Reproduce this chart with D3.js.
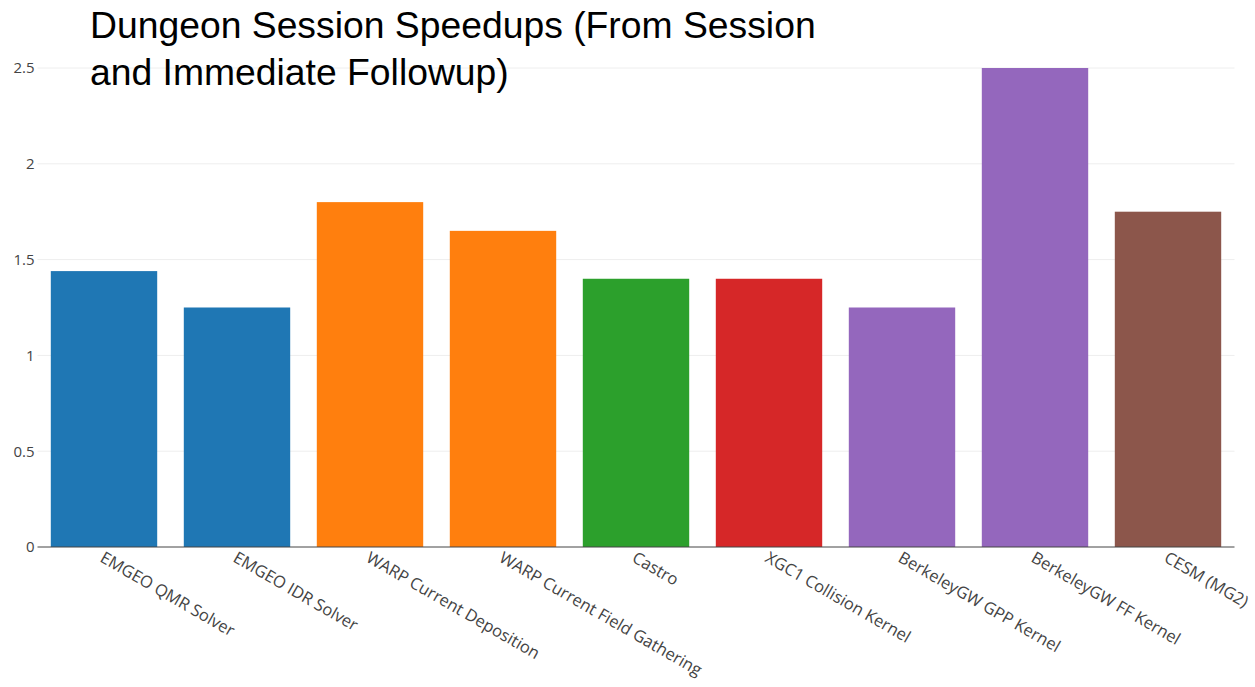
<!DOCTYPE html>
<html>
<head>
<meta charset="utf-8">
<script src="https://cdn.jsdelivr.net/npm/d3@7"></script>
<style>
  body { margin: 0; background: #fff; }
  svg { display: block; }
</style>
</head>
<body>
<div id="chart"></div>
<script>
// chart data
var kernels = ["EMGEO QMR Solver", "EMGEO IDR Solver", "WARP Current Deposition",
    "WARP Current Field Gathering", "Castro", "XGC1 Collision Kernel",
    "BerkeleyGW GPP Kernel", "BerkeleyGW FF Kernel", "CESM (MG2)"];
var speedups = [1.44, 1.25, 1.8, 1.65, 1.4, 1.4, 1.25, 2.5, 1.75];
var barColors = ["#1f77b4", "#1f77b4", "#ff7f0e", "#ff7f0e", "#2ca02c", "#d62728",
    "#9467bd", "#9467bd", "#8c564b"];
var yTicks = [0, 0.5, 1, 1.5, 2, 2.5];
var titleLines = ["Dungeon Session Speedups (From Session", "and Immediate Followup)"];

const W = 1255, H = 687;
const margin = { top: 68, right: 20.5, bottom: 140, left: 37.5 };
const width = W - margin.left - margin.right;
const height = H - margin.top - margin.bottom;

var svg = d3.select("#chart")
    .append("svg")
    .attr("width", W)
    .attr("height", H);

var g = svg.append("g")
    .attr("transform", `translate(${margin.left},${margin.top})`);

var x = d3.scaleBand()
    .domain(kernels)
    .range([0, width])
    .paddingInner(0.2)
    .paddingOuter(0.1);

var y = d3.scaleLinear()
    .domain([0, 2.5])
    .range([height, 0]);

// gridlines
g.append("g")
    .selectAll("line")
    .data(yTicks.filter(d => d > 0))
    .join("line")
    .attr("x1", 0)
    .attr("x2", width)
    .attr("y1", d => y(d))
    .attr("y2", d => y(d))
    .style("stroke", "#eee")
    .style("stroke-width", 1);

// y axis labels
var yAxis = g.append("g")
    .call(d3.axisLeft(y).tickValues(yTicks).tickSize(0).tickPadding(3).tickFormat(d3.format("")));
yAxis.select(".domain").remove();
yAxis.selectAll("text")
    .style("font-family", "'Open Sans', sans-serif")
    .style("font-size", "15px")
    .style("fill", "#444");

// bars
g.selectAll("rect.bar")
    .data(kernels)
    .join("rect")
    .attr("class", "bar")
    .attr("x", d => x(d))
    .attr("y", (d, i) => y(speedups[i]))
    .attr("width", x.bandwidth())
    .attr("height", (d, i) => height - y(speedups[i]))
    .style("fill", (d, i) => barColors[i]);

// zero line
g.append("line")
    .attr("x1", 0)
    .attr("x2", width)
    .attr("y1", y(0))
    .attr("y2", y(0))
    .style("stroke", "#444")
    .style("stroke-width", 1);

// x labels, rotated 30deg
var xAxis = g.append("g")
    .attr("transform", `translate(0,${height})`)
    .call(d3.axisBottom(x).tickSize(0).tickPadding(0));
xAxis.select(".domain").remove();
xAxis.selectAll("text")
    .attr("y", 0)
    .attr("dy", 0)
    .attr("text-anchor", "start")
    .attr("transform", "translate(-5,14) rotate(30)")
    .style("font-family", "'Open Sans', sans-serif")
    .style("font-size", "16.5px")
    .style("fill", "#444");

// title
svg.append("text")
    .attr("x", 90)
    .attr("y", 38)
    .style("font-family", "'Liberation Sans', Arial, sans-serif")
    .style("font-size", "37.3px")
    .style("fill", "#000")
    .selectAll("tspan")
    .data(titleLines)
    .join("tspan")
    .attr("x", 90)
    .attr("dy", (d, i) => i === 0 ? 0 : 47)
    .text(d => d);
</script>
</body>
</html>
